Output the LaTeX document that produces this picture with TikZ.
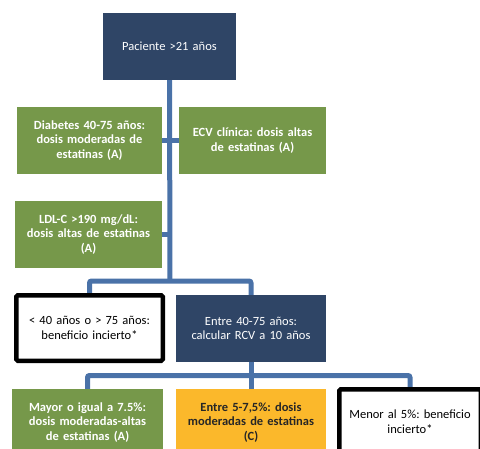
\documentclass[tikz,border=0pt]{standalone}
\usepackage{fontspec}
\setmainfont{Carlito}
\frenchspacing
\definecolor{navy}{HTML}{2F4566}
\definecolor{leaf}{HTML}{76984A}
\definecolor{amber}{HTML}{FBB82B}
\definecolor{link}{HTML}{4A72A8}
\pgfdeclarelayer{back}
\pgfsetlayers{back,main}
\tikzset{
  box/.style={inner sep=0pt, align=center, font=\fontsize{12.5}{14.5}\selectfont},
  navybox/.style={box, fill=navy, text=white},
  greenbox/.style={box, fill=leaf, text=white, font=\fontsize{12.5}{14.5}\selectfont\bfseries},
  amberbox/.style={box, fill=amber, text=black!85, font=\fontsize{12.5}{14.5}\selectfont\bfseries},
  blackbox/.style={box, draw=black, line width=4.5pt, rounded corners=1.5pt, fill=white, text=black},
  conn/.style={draw=link, line width=5pt, rounded corners=2pt},
}
\begin{document}
\begin{tikzpicture}[x=1pt,y=-1pt]
\useasboundingbox (0,0) rectangle (480,448);
\clip (0,0) rectangle (480,448);
\coordinate (b1) at (170,281);
\coordinate (b2) at (250,375.5);
\node[navybox, minimum width=133pt, minimum height=67pt, text width=128pt] (top) at (169.5,46.5) {Paciente >21 años};
\node[greenbox, minimum width=145pt, minimum height=67pt, text width=142pt] (diab) at (89.5,140.5) {Diabetes 40-75 años:\\ dosis moderadas de\\ estatinas (A)};
\node[greenbox, minimum width=147pt, minimum height=67pt, text width=144pt] (ecv) at (252.5,140.5) {ECV clínica: dosis altas\\ de estatinas (A)};
\node[greenbox, minimum width=147pt, minimum height=67pt, text width=144pt] (ldl) at (88.5,234.5) {LDL-C >190 mg/dL:\\ dosis altas de estatinas\\ (A)};
\node[blackbox, minimum width=146.5pt, minimum height=65.5pt, text width=140pt] (viejo) at (89.5,328) {< 40 años o > 75 años:\\ beneficio incierto*};
\node[navybox, minimum width=150pt, minimum height=67pt, text width=146pt] (entre) at (251,328.5) {Entre 40-75 años:\\ calcular RCV a 10 años};
\node[greenbox, minimum width=151pt, minimum height=67pt, text width=148pt] (alto) at (87.5,422.5) {Mayor o igual a 7.5\%:\\ dosis moderadas-altas\\ de estatinas (A)};
\node[amberbox, minimum width=150pt, minimum height=67pt, text width=147pt] (medio) at (251,422.5) {Entre 5-7,5\%: dosis\\ moderadas de estatinas\\ (C)};
\node[blackbox, minimum width=141.5pt, minimum height=64.5pt, text width=136pt] (bajo) at (410,421.5) {Menor al 5\%: beneficio\\ incierto*};
\begin{pgfonlayer}{back}
\draw[conn] (top.south) -- (b1);
\draw[conn] (diab.east) -- (ecv.west);
\draw[conn] (ldl.east) -- (ldl.east -| b1);
\draw[conn] (viejo.north) |- (b1) -| (entre.north);
\draw[conn] (entre.south) -- (medio.north);
\draw[conn] (alto.north) |- (b2) -| (bajo.north);
\end{pgfonlayer}
\end{tikzpicture}
\end{document}
